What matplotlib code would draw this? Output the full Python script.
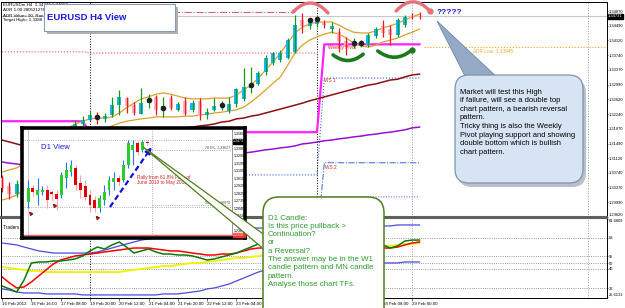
import matplotlib
matplotlib.use("Agg")
import numpy as np
import matplotlib.pyplot as plt
from matplotlib.patches import FancyBboxPatch, Polygon, Rectangle

plt.rcParams['font.family'] = ['Liberation Sans', 'DejaVu Sans']
nan = float('nan')

### H4 bars, bar 0 = 16 Feb 2012 00:00
h4_open = [1.3060, 1.3040, 1.3020, 1.3045, 1.3080, 1.3110, 1.3095, 1.3135, 1.3160, 1.3150,
           1.3185, 1.3200, 1.3209, 1.3222, 1.3212, 1.3222, 1.3247, 1.3265, 1.3247, 1.3225,
           1.3252, 1.3268, 1.3235, 1.3265, 1.3235, 1.3258, 1.3235, 1.3258, 1.3222, 1.3235,
           1.3243, 1.3232, 1.3250, 1.3263, 1.3290, 1.3300, 1.3332, 1.3355, 1.3362, 1.3367,
           1.3382, 1.3464, 1.3450, 1.3453, 1.3461, 1.3440, 1.3433, 1.3410, 1.3397, 1.3400,
           1.3400, 1.3424, 1.3448, 1.3441, 1.3426, 1.3451, 1.3474, 1.3475]
h4_high = [1.3070, 1.3050, 1.3055, 1.3090, 1.3120, 1.3125, 1.3145, 1.3170, 1.3175, 1.3195,
           1.3210, 1.3220, 1.3235, 1.3230, 1.3228, 1.3268, 1.3286, 1.3268, 1.3255, 1.3291,
           1.3275, 1.3273, 1.3268, 1.3273, 1.3255, 1.3268, 1.3260, 1.3265, 1.3240, 1.3265,
           1.3258, 1.3268, 1.3291, 1.3342, 1.3345, 1.3335, 1.3375, 1.3382, 1.3388, 1.3418,
           1.3477, 1.3482, 1.3470, 1.3472, 1.3464, 1.3459, 1.3444, 1.3420, 1.3418, 1.3413,
           1.3431, 1.3446, 1.3464, 1.3451, 1.3469, 1.3477, 1.3482, 1.3484]
h4_low = [1.3025, 1.3008, 1.3012, 1.3040, 1.3070, 1.3085, 1.3090, 1.3125, 1.3140, 1.3145,
          1.3175, 1.3195, 1.3207, 1.3200, 1.3205, 1.3217, 1.3222, 1.3227, 1.3222, 1.3224,
          1.3240, 1.3222, 1.3217, 1.3235, 1.3233, 1.3222, 1.3230, 1.3209, 1.3212, 1.3232,
          1.3235, 1.3227, 1.3242, 1.3258, 1.3278, 1.3298, 1.3325, 1.3349, 1.3357, 1.3365,
          1.3380, 1.3431, 1.3440, 1.3446, 1.3443, 1.3431, 1.3382, 1.3375, 1.3392, 1.3395,
          1.3395, 1.3418, 1.3421, 1.3400, 1.3421, 1.3446, 1.3467, 1.3467]
h4_close = [1.3035, 1.3020, 1.3045, 1.3080, 1.3110, 1.3095, 1.3135, 1.3160, 1.3150, 1.3185,
            1.3200, 1.3210, 1.3222, 1.3215, 1.3220, 1.3247, 1.3268, 1.3245, 1.3227, 1.3252,
            1.3260, 1.3235, 1.3245, 1.3240, 1.3250, 1.3225, 1.3252, 1.3220, 1.3230, 1.3245,
            1.3250, 1.3250, 1.3288, 1.3293, 1.3300, 1.3330, 1.3367, 1.3380, 1.3380, 1.3413,
            1.3451, 1.3450, 1.3461, 1.3464, 1.3451, 1.3450, 1.3408, 1.3395, 1.3407, 1.3405,
            1.3426, 1.3441, 1.3430, 1.3425, 1.3464, 1.3472, 1.3470, 1.3473]

### envelope bands and moving averages
band_upper = [1.3076, 1.3082, 1.3087, 1.3099, 1.3112, 1.3127, 1.3143, 1.3158, 1.3173, 1.3189,
              1.3199, 1.3206, 1.3212, 1.3214, 1.3214, 1.3217, 1.3227, 1.3240, 1.3252, 1.3263,
              1.3268, 1.3275, 1.3278, 1.3275, 1.3270, 1.3265, 1.3263, 1.3263, 1.3263, 1.3265,
              1.3265, 1.3265, 1.3273, 1.3286, 1.3298, 1.3316, 1.3337, 1.3357, 1.3380, 1.3405,
              1.3431, 1.3446, 1.3454, 1.3459, 1.3459, 1.3459, 1.3451, 1.3441, 1.3433, 1.3431,
              1.3431, 1.3436, 1.3444, 1.3449, 1.3456, 1.3464, 1.3472, 1.3479]
band_lower = [1.3005, 1.3010, 1.3018, 1.3031, 1.3043, 1.3056, 1.3071, 1.3087, 1.3102, 1.3117,
              1.3133, 1.3145, 1.3158, 1.3171, 1.3184, 1.3194, 1.3201, 1.3206, 1.3209, 1.3212,
              1.3214, 1.3217, 1.3217, 1.3217, 1.3217, 1.3219, 1.3219, 1.3222, 1.3224, 1.3227,
              1.3229, 1.3232, 1.3235, 1.3242, 1.3255, 1.3270, 1.3286, 1.3303, 1.3319, 1.3349,
              1.3380, 1.3400, 1.3413, 1.3421, 1.3428, 1.3433, 1.3428, 1.3418, 1.3405, 1.3398,
              1.3395, 1.3400, 1.3408, 1.3413, 1.3418, 1.3426, 1.3433, 1.3441]
ma_maroon = [1.3158, 1.3153, 1.3148, 1.3143, 1.3140, 1.3140, 1.3140, 1.3143, 1.3145, 1.3148,
             1.3150, 1.3153, 1.3156, 1.3158, 1.3161, 1.3163, 1.3166, 1.3168, 1.3171, 1.3173,
             1.3176, 1.3178, 1.3181, 1.3184, 1.3186, 1.3189, 1.3191, 1.3194, 1.3196, 1.3199,
             1.3204, 1.3206, 1.3212, 1.3214, 1.3219, 1.3222, 1.3227, 1.3232, 1.3237, 1.3242,
             1.3247, 1.3252, 1.3258, 1.3263, 1.3268, 1.3273, 1.3278, 1.3283, 1.3288, 1.3293,
             1.3298, 1.3301, 1.3306, 1.3311, 1.3313, 1.3319, 1.3324, 1.3326]
ma_purple = [1.3102, 1.3099, 1.3097, 1.3094, 1.3094, 1.3094, 1.3094, 1.3097, 1.3097, 1.3099,
             1.3099, 1.3102, 1.3102, 1.3105, 1.3105, 1.3107, 1.3107, 1.3110, 1.3110, 1.3112,
             1.3112, 1.3115, 1.3115, 1.3117, 1.3117, 1.3120, 1.3120, 1.3120, 1.3122, 1.3122,
             1.3122, 1.3125, 1.3125, 1.3125, 1.3127, 1.3130, 1.3133, 1.3135, 1.3138, 1.3140,
             1.3143, 1.3148, 1.3150, 1.3153, 1.3156, 1.3158, 1.3161, 1.3163, 1.3166, 1.3168,
             1.3171, 1.3173, 1.3176, 1.3178, 1.3181, 1.3184, 1.3189, 1.3191]

### weekly pivot levels, one value per week
week_start = [0, 12, 44]
pivot_w = [1.3206, 1.3178, 1.3402]
wr1_w = [1.3383, 1.3380, nan]
ws1_w = [nan, 1.3069, 1.3316]
ws2_w = [nan, 1.2900, 1.3100]
ws3_w = [nan, 1.2850, 1.3013]
bid = 1.34731
adr_high = 1.3484
adr_low = 1.33945

fractal_bar = [13, 20, 22, 30, 34, 42, 43, 48, 49]
fractal_price = [1.3217, 1.3260, 1.3240, 1.3247, 1.3298, 1.3464, 1.3466, 1.3405, 1.3405]

price_ticks = [1.34870, 1.34490, 1.34120, 1.33740, 1.33370, 1.32990, 1.32620, 1.32240,
               1.31870, 1.31490, 1.31120, 1.30740, 1.30370, 1.29990, 1.29620]
time_bars = [0, 4, 8, 12, 16, 20, 24, 28, 32, 36, 40, 44, 48, 52, 56]
time_labels = ['16 Feb 2012', '16 Feb 16:00', '17 Feb 08:00', '19 Feb 20:00', '20 Feb 12:00',
               '21 Feb 04:00', '21 Feb 20:00', '22 Feb 12:00', '23 Feb 04:00', '23 Feb 20:00',
               '24 Feb 12:00', '27 Feb 00:00', '27 Feb 16:00', '28 Feb 08:00', '29 Feb 00:00']

### Traders Dynamic Index (lower panel)
tdi_upper = [64.4, 63.7, 63.0, 61.5, 60.1, 58.7, 58.0, 57.2, 57.2, 57.2,
             57.2, 57.2, 57.2, 58.0, 59.4, 60.8, 62.3, 63.7, 65.1, 66.5,
             67.3, 68.0, 68.7, 69.4, 70.1, 70.8, 71.6, 72.3, 73.0, 73.7,
             73.7, 74.4, 74.4, 74.4, 75.1, 75.1, 75.1, 75.9, 75.9, 75.9,
             76.6, 76.6, 76.6, 76.6, 76.6, 76.6, 76.6, 76.6, 76.6, 76.6,
             76.6, 76.6, 76.6, 76.6, 77.3, 77.3, 77.3, 77.3]
tdi_lower = [31.5, 30.7, 29.3, 28.6, 28.6, 28.6, 27.9, 27.9, 27.9, 27.9,
             27.9, 27.2, 27.2, 27.2, 27.2, 27.2, 27.2, 27.2, 27.2, 27.2,
             27.2, 27.2, 27.9, 27.9, 27.9, 28.6, 29.3, 30.0, 31.5, 32.2,
             33.6, 35.0, 37.2, 39.3, 41.5, 43.6, 45.1, 46.5, 47.2, 47.9,
             48.7, 48.7, 49.4, 49.4, 49.4, 49.4, 49.4, 49.4, 49.4, 49.4,
             49.4, 49.4, 50.1, 50.1, 50.1, 50.8, 50.8, 50.8]
tdi_mid = [47.2, 46.5, 45.8, 45.1, 44.4, 44.4, 43.6, 43.6, 43.6, 43.6,
           43.6, 43.6, 43.6, 43.6, 43.6, 43.6, 43.6, 44.4, 45.1, 45.8,
           46.5, 47.2, 47.9, 47.9, 48.7, 49.4, 50.1, 50.1, 50.8, 51.5,
           52.2, 53.0, 53.7, 53.7, 54.4, 55.1, 55.8, 56.5, 57.2, 58.0,
           58.0, 58.7, 59.4, 59.4, 60.1, 60.1, 60.8, 60.8, 61.5, 61.5,
           61.5, 61.5, 62.3, 62.3, 63.0, 63.7, 63.7, 64.4]
tdi_signal = [40.1, 35.8, 32.2, 32.9, 36.5, 40.8, 45.1, 49.4, 52.2, 53.7,
              55.1, 55.8, 56.5, 57.2, 58.0, 58.7, 59.4, 60.1, 60.8, 60.8,
              60.8, 60.1, 59.4, 58.7, 58.7, 58.0, 57.2, 56.5, 55.8, 55.8,
              56.5, 56.5, 57.2, 58.7, 60.1, 60.8, 60.8, 60.8, 60.8, 60.8,
              60.8, 60.8, 60.8, 60.8, 60.8, 60.8, 60.8, 60.8, 60.8, 60.8,
              60.8, 60.8, 60.8, 60.8, 61.5, 63.0, 64.4, 65.1]
tdi_rsi = [33.6, 31.5, 29.3, 37.9, 50.1, 50.8, 50.8, 51.5, 51.5, 52.2,
           53.0, 55.1, 58.7, 61.5, 60.1, 63.0, 65.1, 61.5, 57.2, 58.7,
           60.1, 58.0, 56.5, 56.5, 55.8, 55.8, 55.1, 53.7, 52.2, 53.0,
           54.4, 55.8, 57.2, 59.4, 61.5, 63.7, 64.4, 64.4, 64.4, 65.1,
           65.1, 64.4, 63.7, 63.0, 62.3, 62.3, 61.5, 61.5, 62.3, 62.3,
           62.3, 63.0, 63.0, 60.8, 62.3, 65.8, 66.5, 66.5]
tdi_levels = [68, 55, 50, 46, 32]
tdi_top = 81.6809
tdi_bottom = 25.6131

### D1 inset candles
d1_open = [1.2723, 1.2896, 1.2810, 1.2846, 1.2871, 1.2846, 1.2822, 1.2810, 1.3019, 1.3092,
           1.3142, 1.2957, 1.2920, 1.2810, 1.2748, 1.2650, 1.2748, 1.2871, 1.2969, 1.3019,
           1.2994, 1.3179, 1.3363, 1.3449, 1.3363, 1.3461]
d1_high = [1.2994, 1.2932, 1.3019, 1.2920, 1.2932, 1.2871, 1.2871, 1.3092, 1.3215, 1.3240,
           1.3179, 1.3056, 1.2994, 1.2871, 1.2797, 1.2810, 1.2932, 1.3043, 1.3092, 1.3056,
           1.3240, 1.3486, 1.3486, 1.3474, 1.3486, 1.3486]
d1_low = [1.2650, 1.2797, 1.2687, 1.2810, 1.2650, 1.2748, 1.2625, 1.2773, 1.2896, 1.3043,
          1.2871, 1.2773, 1.2748, 1.2600, 1.2600, 1.2600, 1.2687, 1.2810, 1.2871, 1.2920,
          1.2969, 1.3142, 1.3179, 1.3302, 1.3338, 1.3425]
d1_close = [1.2896, 1.2846, 1.2871, 1.2871, 1.2748, 1.2822, 1.2760, 1.3056, 1.3117, 1.3179,
            1.2932, 1.2871, 1.2785, 1.2687, 1.2650, 1.2773, 1.2846, 1.2994, 1.3019, 1.2969,
            1.3179, 1.3449, 1.3425, 1.3338, 1.3461, 1.3449]
d1_scale = [1.3560, 1.3380, 1.3290, 1.3195, 1.3105, 1.3010, 1.2920, 1.2825, 1.2735,
            1.2640, 1.2550, 1.2455, 1.2365]
d1_last = 1.34731
d1_red_line = 1.2318
d1_grid = [1.3486, 1.2662]
d1_fib = [1.3363, 1.2687]
d1_fib_labels = ['78.6%, 1.33627', '50.0%, 1.26870']
d1_lows_marked = [0, 5, 14]

W, H = 625.0, 308.0


def rect(x0, y0, x1, y1):
    return [x0 / W, 1 - y1 / H, (x1 - x0) / W, (y1 - y0) / H]


def px(x, y):
    return x / W, 1 - y / H


fig = plt.figure(figsize=(6.25, 3.08), dpi=100)
fig.patch.set_facecolor('white')

ax = fig.add_axes(rect(1, 2, 607, 217))
axi = fig.add_axes(rect(1, 218, 607, 298))
XMIN, XMAX = -0.15, 82.6

# ---------------- main H4 chart ----------------
idx = np.arange(len(h4_open))
o, c = np.array(h4_open), np.array(h4_close)
up = c >= o

reps = np.diff(week_start + [len(idx)])
ax.plot(idx, np.repeat(wr1_w, reps), color='#ff5050', ls=':', lw=0.8, zorder=1)
ax.plot(idx, np.repeat(ws1_w, reps), color='#3a5fe0', ls=':', lw=0.8, zorder=1)
ax.plot(idx, np.repeat(ws2_w, reps), color='#3a5fe0', ls='-.', lw=0.7, zorder=1)
ax.plot(idx, np.repeat(ws3_w, reps), color='#3a5fe0', ls=':', lw=0.7, zorder=1)
ax.plot(idx, np.repeat(pivot_w, reps), color='#ff22ff', lw=1.6, zorder=2)
ax.hlines(adr_high, 12, 40, colors='#e06070', ls='-.', lw=0.8, zorder=1)
ax.axhline(bid, color='#c8c8c8', lw=0.8, zorder=1)
ax.hlines(adr_low, 57.6, XMAX, colors='#f5a623', ls=':', lw=0.8, zorder=1)

for b in (12, 43):
    ax.axvline(b, color='black', ls=':', lw=0.7, zorder=1)
    axi.axvline(b, color='black', ls=':', lw=0.7, zorder=1)
for b in (56, 80):
    ax.axvline(b, color='#999999', ls=':', lw=0.7, zorder=1)
    axi.axvline(b, color='#999999', ls=':', lw=0.7, zorder=1)

ax.plot(idx, ma_maroon, color='#8b1010', lw=1.1, zorder=2)
ax.plot(idx, ma_purple, color='#9a10d0', lw=1.1, zorder=2)
ax.plot(idx, band_upper, color='#dca02a', lw=0.9, zorder=2)
ax.plot(idx, band_lower, color='#dca02a', lw=0.9, zorder=2)

ax.bar(idx, np.maximum(np.abs(c - o), 0.0002), bottom=np.minimum(o, c), width=0.55,
       color=np.where(up, '#19b5f5', '#ffb4c4'), zorder=3)
ax.vlines(idx, h4_low, h4_high, colors=np.where(up, '#169a16', '#f01818'), lw=0.9, zorder=4)
ax.scatter(fractal_bar, fractal_price, s=9, color='#202020', zorder=5)

# double top / double bottom arcs
for a, b in (((39.7, 1.3484), (44.5, 1.3482)), ((53.8, 1.3487), (58.4, 1.3487))):
    ax.annotate('', xy=b, xytext=a, arrowprops=dict(arrowstyle='-', color='#e8707a', lw=2.4,
                connectionstyle='arc3,rad=-0.55', shrinkA=0, shrinkB=0))
ax.plot([58.4], [1.3487], 'o', color='#e8707a', ms=3.5)
for a, b in (((45.2, 1.3375), (49.3, 1.3377)), ((51.3, 1.3385), (55.96, 1.3388))):
    ax.annotate('', xy=b, xytext=a, arrowprops=dict(arrowstyle='-', color='#1c7a1c', lw=2.6,
                connectionstyle='arc3,rad=0.4', shrinkA=0, shrinkB=0))
ax.plot([55.96], [1.3388], 'o', color='#1c7a1c', ms=3.5)

ax.text(59.4, 1.3484, '?????', color='#1a1adc', fontsize=6, fontweight='bold', va='center')
ax.text(44.0, 1.3311, 'WS 1', color='#e02020', fontsize=3.4, va='center')
ax.text(44.1, 1.3089, 'WS 2', color='#e02020', fontsize=3.4, va='center')
ax.text(44.5, 1.3395, 'Weekly Pivot', color='#e02020', fontsize=3.4, va='center')
ax.text(64.3, 1.3385, 'ADR Low: 1.33945', color='#f5a623', fontsize=3.4, va='center')

info = ['EURUSDm,H4  1.34737 1.34817',
        'ADR 1.00 28052127F',
        'ADR Value= 90, Ran',
        'Target High= 1.3388']
for k, line in enumerate(info):
    ax.text(*px(3, 4.5 + k * 5.3), line, transform=fig.transFigure, fontsize=3.2, va='center')

ax.set_xlim(XMIN, XMAX)
ax.set_ylim(1.29617, 1.35100)
ax.set_xticks([])
ax.yaxis.tick_right()
ax.set_yticks(price_ticks)
ax.set_yticklabels([f'{v:.5f}' for v in price_ticks])
ax.tick_params(axis='y', labelsize=2.9, length=1, width=0.4, pad=0.3)
ax.get_yticklabels()[-1].set_va('bottom')
ax.text(1.0015, bid, f'{bid:.5f}', transform=ax.get_yaxis_transform(), color='white',
        fontsize=2.9, va='center', ha='left',
        bbox=dict(fc='black', ec='black', pad=0.3))
for s in ax.spines.values():
    s.set_linewidth(0.7)
ax.spines['bottom'].set_color('#606060')
ax.spines['bottom'].set_linewidth(1.5)

# ---------------- indicator panel ----------------
axi.plot(idx, tdi_upper, color='#4b4bdc', lw=0.9)
axi.plot(idx, tdi_lower, color='#4b4bdc', lw=0.9)
axi.plot(idx, tdi_mid, color='#f2f200', lw=1.3)
axi.plot(idx, tdi_signal, color='#ff0000', lw=1.1)
axi.plot(idx, tdi_rsi, color='#0a7a0a', lw=1.1)
for lv in tdi_levels:
    axi.axhline(lv, color='#777777', ls=':', lw=0.6, zorder=0)
axi.set_xlim(XMIN, XMAX)
axi.set_ylim(25.0, 82.3)
axi.yaxis.tick_right()
yt = [tdi_top] + tdi_levels + [tdi_bottom]
axi.set_yticks(yt)
axi.set_yticklabels(['81.6809'] + [str(v) for v in tdi_levels] + ['25.6131'])
axi.tick_params(axis='y', labelsize=2.9, length=1, width=0.4, pad=0.3)
axi.get_yticklabels()[0].set_va('top')
axi.get_yticklabels()[-1].set_va('bottom')
axi.set_xticks(time_bars)
axi.set_xticklabels(time_labels)
axi.tick_params(axis='x', labelsize=3.2, length=2, width=0.4, pad=1)
for lab in axi.get_xticklabels():
    lab.set_ha('left')
for s in axi.spines.values():
    s.set_linewidth(0.7)
axi.spines['top'].set_color('#606060')
axi.spines['top'].set_linewidth(1.5)
axi.text(0.004, 0.88, 'Traders Dynamic Index', transform=axi.transAxes, fontsize=3.3, va='center')

# ---------------- D1 inset ----------------
axd = fig.add_axes(rect(22, 128, 245, 238), zorder=5)
axd.set_facecolor('white')
axd.set_xlim(-1.3, 45.6)
axd.set_ylim(1.2281, 1.3634)
axd.set_xticks([])
axd.set_yticks([])
for s in axd.spines.values():
    s.set_linewidth(2.6)
    s.set_color('black')

j = np.arange(len(d1_open))
do, dc = np.array(d1_open), np.array(d1_close)
dup = dc >= do
for g in d1_grid:
    axd.axhline(g, color='#999999', ls=':', lw=0.6)
axd.axvline(26, color='#999999', ls=':', lw=0.6)
axd.axvline(0, color='#bbbbbb', lw=0.5)
axd.axvline(42.9, color='#888888', lw=0.6)
for f, lab in zip(d1_fib, d1_fib_labels):
    axd.hlines(f, 26, 42.9, colors='#999999', ls=':', lw=0.6)
    axd.text(42.5, f + 0.0008, lab, fontsize=2.6, ha='right', va='bottom', color='#444444')
axd.axhline(d1_red_line, color='#ff6060', lw=1.0)
axd.vlines(j, d1_low, d1_high, colors=np.where(dup, '#1e78ff', '#ffa0b4'), lw=0.8, zorder=2)
axd.bar(j, np.maximum(np.abs(dc - do), 0.0004), bottom=np.minimum(do, dc), width=0.62,
        color=np.where(dup, '#2ccc2c', '#e00000'), zorder=3)
for v in d1_scale:
    axd.text(43.3, v, f'{v:.4f}', fontsize=2.6, va='center', ha='left')
axd.text(43.1, d1_last, f'{d1_last:.4f}', fontsize=2.6, va='center', ha='left', color='white',
         bbox=dict(fc='black', ec='black', pad=0.3))
axd.text(43.1, d1_red_line, f'{d1_red_line:.4f}', fontsize=2.6, va='center', ha='left',
         color='white', bbox=dict(fc='#ff3030', ec='#ff3030', pad=0.3))

axd.text(2.7, 1.3388, 'D1 View', color='#1a1adc', fontsize=5.6, va='center')
axd.text(22.9, 1.3060, 'Rally from 61.8% Fib-r of\nJune 2010 to May 2011', color='#d02020',
         fontsize=3.4, va='top', linespacing=1.1)
axd.plot([17.2, 24.6], [1.2662, 1.3282], color='#1010e8', lw=1.6, ls=(0, (2.5, 1.5)))
axd.annotate('', xy=(26.3, 1.3425), xytext=(24.4, 1.3265),
             arrowprops=dict(arrowstyle='-|>', color='#1010e8', lw=1.4, mutation_scale=9))
for b in d1_lows_marked:
    axd.annotate('', xy=(b - 0.2, d1_low[b] - 0.0015), xytext=(b + 1.0, d1_low[b] - 0.0100),
                 arrowprops=dict(arrowstyle='-|>', color='#8b1a1a', lw=0.9, mutation_scale=5))

# ---------------- overlay: title box and callouts ----------------
ov = fig.add_axes([0, 0, 1, 1], zorder=10)
ov.set_xlim(0, W)
ov.set_ylim(H, 0)
ov.axis('off')

ov.add_patch(Rectangle((46.5, 6.5), 131, 27, fc='#b0b0b0', ec='none'))
ov.add_patch(Rectangle((44, 4), 131, 27, fc='white', ec='#8a9ab0', lw=0.8))
ov.text(47, 18, 'EURUSD H4 View', color='#1a1adc', fontsize=6.8, fontweight='bold', va='center')

# blue callout
ov.add_patch(FancyBboxPatch((458, 79), 128, 108, boxstyle='round,pad=0,rounding_size=14',
                            fc='#9aa4b0', ec='none', alpha=0.7))
ov.add_patch(Polygon([(437, 21), (468, 82), (500, 80)], fc='#93a9c6', ec='#7087a6', lw=0.6))
blue_box = FancyBboxPatch((455, 75), 128, 108, boxstyle='round,pad=0,rounding_size=14',
                          fc='#d7e4f4', ec='#7d93b0', lw=0.9)
ov.add_patch(blue_box)
grad = np.linspace(0, 1, 64).reshape(-1, 1)
im = ov.imshow(grad, extent=(455, 583, 183, 75), cmap=matplotlib.colors.LinearSegmentedColormap
               .from_list('bb', ['#eef4fc', '#c9dbf1']), aspect='auto', origin='upper')
im.set_clip_path(blue_box)
ov.set_xlim(0, W)
ov.set_ylim(H, 0)
ov.text(460, 88.5, 'Market will test this High\nif failure, will see a double top\n'
        'chart pattern, a bearish reversal\npattern.\nTricky thing is also the Weekly\n'
        'Pivot playing support and showing\ndouble bottom which is bullish\nchart pattern.',
        fontsize=5.4, va='top', ha='left', linespacing=1.33, color='black')

# green callout
ov.add_patch(Polygon([(143, 147), (266, 236), (266, 251)], fc='white', ec='#4f7f1f', lw=0.9))
ov.add_patch(FancyBboxPatch((263, 197), 121, 130, boxstyle='round,pad=0,rounding_size=16',
                            fc='white', ec='#4f7f1f', lw=1.1))
ov.text(268, 214.5, 'D1 Candle:\nIs this price pullback >\nContinuation?\nor\na Reversal?\n'
        'The answer may be in the W1\ncandle pattern and MN candle\npattern.\n'
        'Analyse those chart TFs.',
        fontsize=5.7, va='top', ha='left', linespacing=1.26, color='#2e9e2e')

fig.savefig('out.png', dpi=100)
